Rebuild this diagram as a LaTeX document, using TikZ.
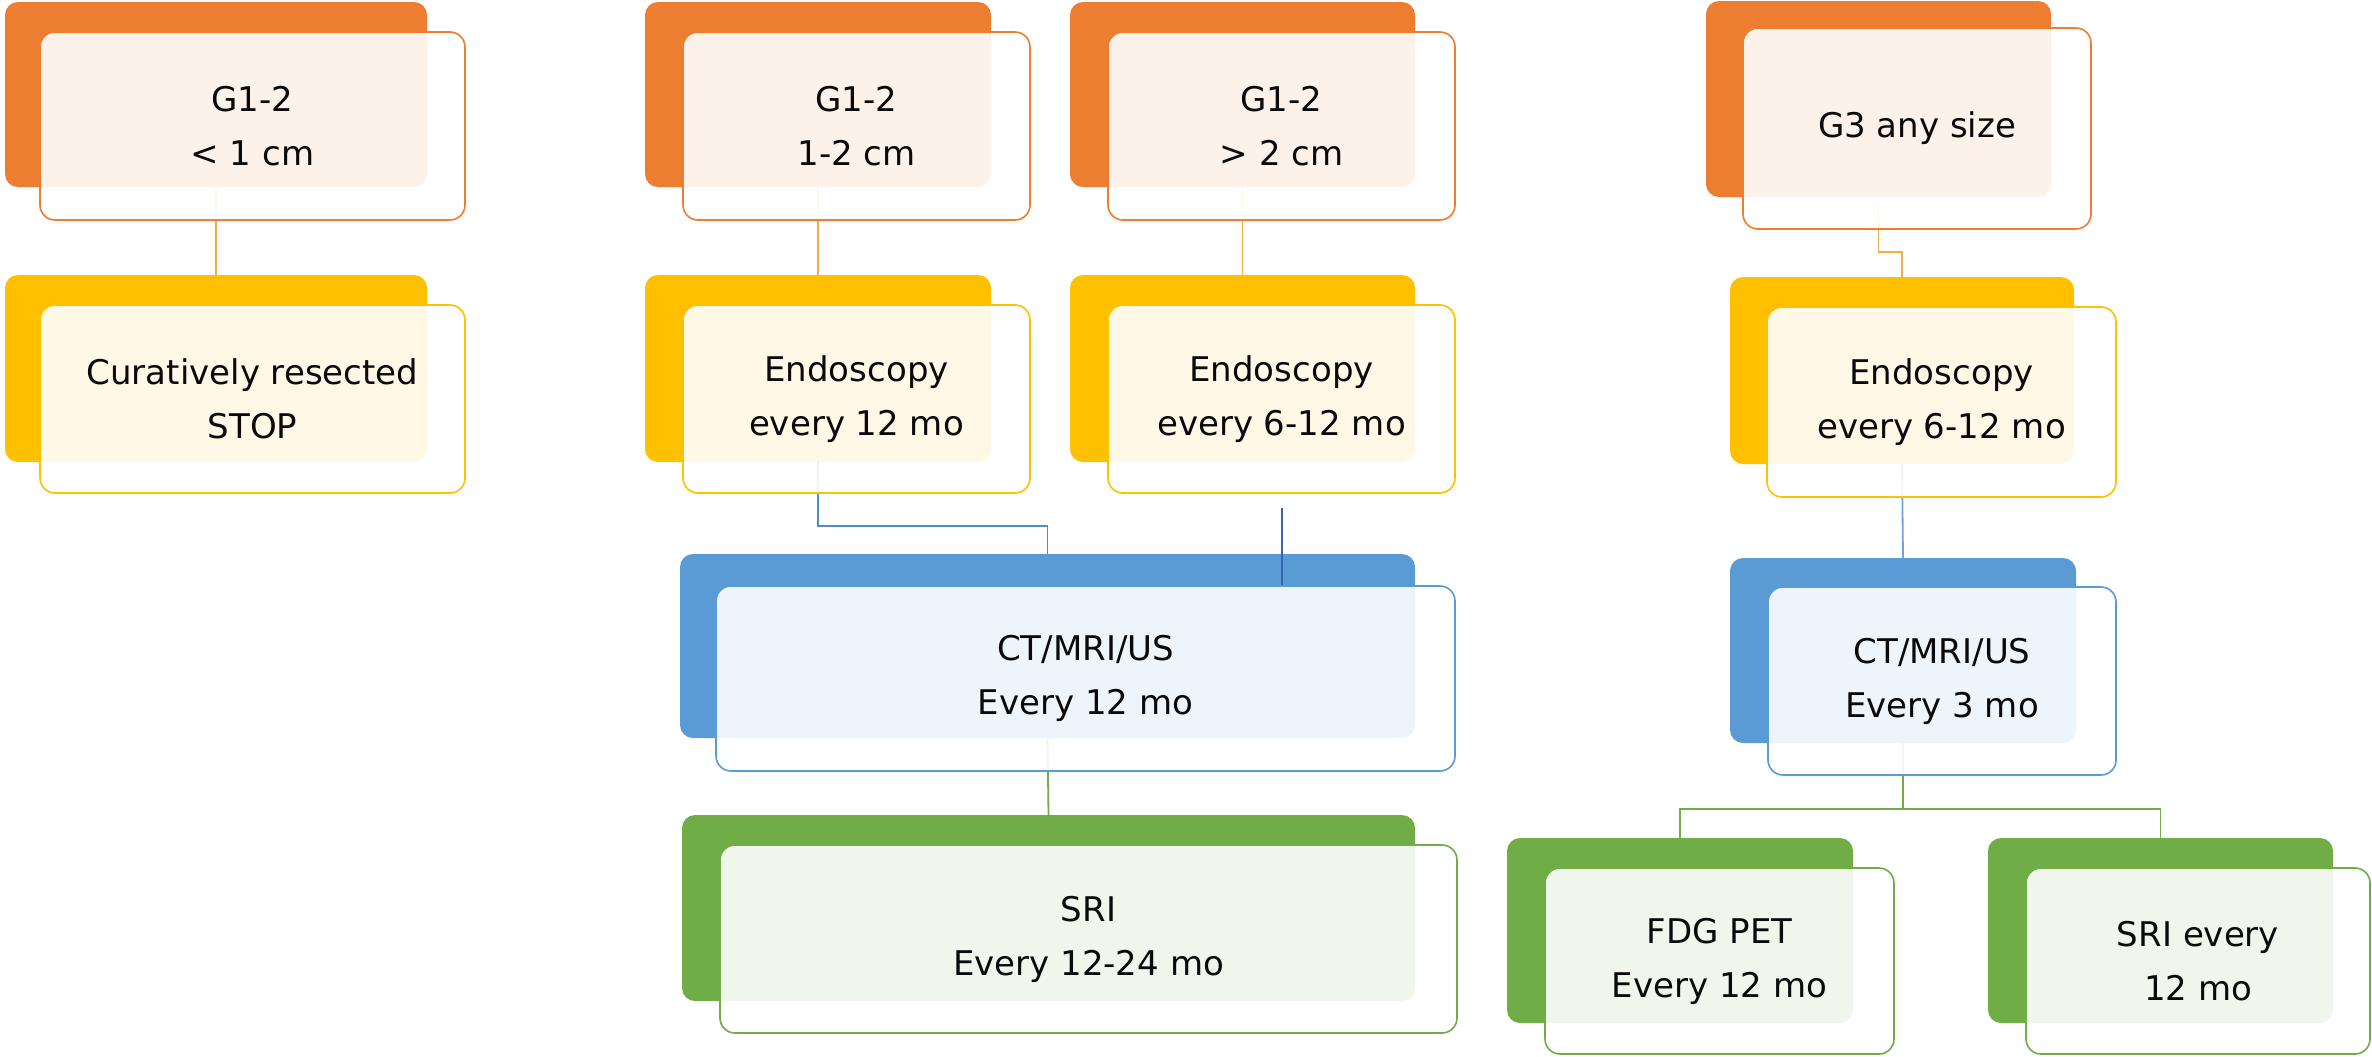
\documentclass[tikz,border=0pt]{standalone}
\usepackage{fontspec}
\setmainfont{DejaVu Sans}
\definecolor{cOr}{HTML}{ED7D31}
\definecolor{cYe}{HTML}{FFC000}
\definecolor{cBl}{HTML}{5B9BD5}
\definecolor{cGr}{HTML}{70AD47}
\definecolor{cGold}{HTML}{F0AE45}
\definecolor{cBlM}{HTML}{4F8BD0}
\definecolor{cBlD}{HTML}{3A66B0}
\definecolor{cBlL}{HTML}{6FA3DA}
\definecolor{cTxt}{HTML}{0A0A0A}
\newcommand\backnode[6]{\node[backbox,fill=#2,minimum width={(#5-#3)*0.5pt},minimum height={(#6-#4)*0.5pt}] (#1) at ({(#3+#5)/2},{(#4+#6)/2}) {};}
\newcommand\frontnode[7]{\node[frontbox,draw=#2,minimum width={(#5-#3)*0.5pt},minimum height={(#6-#4)*0.5pt}] (#1) at ({(#3+#5)/2},{(#4+#6)/2}) {#7};}
\begin{document}
\begin{tikzpicture}[x=0.5pt,y=-0.5pt,
  backbox/.style={rounded corners=6.5pt, inner sep=0pt, outer sep=0pt, draw=none},
  frontbox/.style={rounded corners=7.5pt, fill=white, fill opacity=0.9, text opacity=1,
    line width=0.8pt, inner sep=0pt, outer sep=0pt, align=center, text=cTxt,
    font=\fontsize{17}{27}\selectfont},
  link/.style={line width=0.9pt}]
\path[use as bounding box, fill=white] (0,0) rectangle (2372,1056);

% back rectangles
\backnode{A1b}{cOr}{5}{2}{427}{187}
\backnode{A2b}{cYe}{5}{275}{427}{462}
\backnode{B1b}{cOr}{645}{2}{991}{187}
\backnode{B2b}{cYe}{645}{275}{991}{462}
\backnode{C1b}{cOr}{1070}{2}{1415}{187}
\backnode{C2b}{cYe}{1070}{275}{1415}{462}
\backnode{E1b}{cBl}{680}{554}{1415}{738}
\backnode{E2b}{cGr}{682}{815}{1415}{1001}
\backnode{D1b}{cOr}{1706}{1}{2051}{197}
\backnode{D2b}{cYe}{1730}{277}{2074}{464}
\backnode{D3b}{cBl}{1730}{558}{2076}{743}
\backnode{D4b}{cGr}{1507}{838}{1853}{1023}
\backnode{D5b}{cGr}{1988}{838}{2333}{1023}

% connectors
\draw[link, cGold] (A1b.south) -- (A2b.north);
\draw[link, cGold] (B1b.south) -- (B2b.north);
\draw[link, cGold] (C1b.south) -- (C2b.north);
\draw[link, cBlM] (B2b.south) -- ++(0,64) -| (E1b.north);
\coordinate (c3top) at (1282,508);
\draw[link, cBlD] (c3top) -- (c3top |- E1b.north) -- (1282,586);
\draw[link, cGold] (D1b.south) -- ++(0,55) -| (D2b.north);
\draw[link, cBlL] (D2b.south) -- (D3b.north);
\draw[link, cGr] (E1b.south) -- (E2b.north);
\draw[link, cGr] (D3b.south) -- ++(0,66) -| (D4b.north);
\draw[link, cGr] (D3b.south) -- ++(0,66) -| (D5b.north);

% front boxes
\frontnode{A1f}{cOr}{40}{32}{465}{220}{G1-2\\< 1 cm}
\frontnode{A2f}{cYe}{40}{305}{465}{493}{Curatively resected\\STOP}
\frontnode{B1f}{cOr}{683}{32}{1030}{220}{G1-2\\1-2 cm}
\frontnode{B2f}{cYe}{683}{305}{1030}{493}{Endoscopy\\every 12 mo}
\frontnode{C1f}{cOr}{1108}{32}{1455}{220}{G1-2\\> 2 cm}
\frontnode{C2f}{cYe}{1108}{305}{1455}{493}{Endoscopy\\every 6-12 mo}
\frontnode{E1f}{cBl}{716}{586}{1455}{771}{CT/MRI/US\\Every 12 mo}
\frontnode{E2f}{cGr}{720}{845}{1457}{1033}{SRI\\Every 12-24 mo}
\frontnode{D1f}{cOr}{1743}{28}{2091}{229}{G3 any size}
\frontnode{D2f}{cYe}{1767}{307}{2116}{497}{Endoscopy\\every 6-12 mo}
\frontnode{D3f}{cBl}{1768}{587}{2116}{775}{CT/MRI/US\\Every 3 mo}
\frontnode{D4f}{cGr}{1545}{868}{1894}{1054}{FDG PET\\Every 12 mo}
\frontnode{D5f}{cGr}{2026}{868}{2370}{1054}{SRI every\\12 mo}
\end{tikzpicture}
\end{document}
